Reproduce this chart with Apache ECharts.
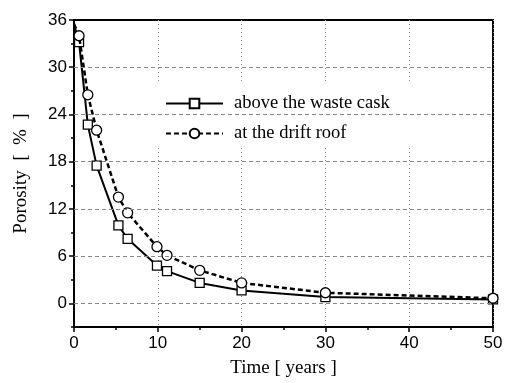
<!DOCTYPE html>
<html>
<head>
<meta charset="utf-8">
<script src="https://cdn.jsdelivr.net/npm/echarts@6/dist/echarts.min.js"></script>
<style>
  html, body { margin: 0; padding: 0; background: #fff; }
  #chart { width: 506px; height: 383px; }
</style>
</head>
<body>
<div id="chart"></div>
<script>
// Porosity decay over time at two locations
const timeYears = [0, 0.6, 1.65, 2.7, 5.3, 6.4, 9.9, 11.1, 15, 20, 30, 50];
const porosityAboveCask = [35.5, 33.2, 22.7, 17.5, 9.9, 8.2, 4.8, 4.1, 2.6, 1.65, 0.8, 0.5];
const porosityDriftRoof = [35.5, 34.0, 26.5, 22.0, 13.5, 11.5, 7.2, 6.1, 4.2, 2.6, 1.35, 0.65];

const seriesNames = ['above the waste cask', 'at the drift roof'];
const yLabelTicks = [0, 6, 12, 18, 24, 30, 36];
const yGridValues = [0, 6, 12, 18, 24, 30];

// [x, y] pairs; the starting point sits on the axis and carries no marker
const pairs = (xs, ys) => xs.map((x, i) =>
  i === 0 ? { value: [x, ys[i]], symbol: 'none' } : [x, ys[i]]);

const chart = echarts.init(document.getElementById('chart'), null, { renderer: 'canvas' });

const sansFont = '"Liberation Sans", Arial, sans-serif';
const serifFont = '"Liberation Serif", "Times New Roman", serif';

chart.setOption({
  animation: false,
  backgroundColor: '#fff',
  grid: {
    left: 74, right: 13, top: 20, bottom: 56,
    show: true, borderColor: '#000', borderWidth: 2, backgroundColor: 'transparent'
  },
  legend: {
    orient: 'vertical',
    left: 150, top: 83,
    padding: [11, 37, 5, 15],
    itemGap: 11,
    itemWidth: 57,
    itemHeight: 12,
    backgroundColor: '#fff',
    data: seriesNames,
    textStyle: { fontFamily: serifFont, fontSize: 18.5, color: '#000', padding: [0, 0, 0, 6] }
  },
  xAxis: {
    type: 'value',
    min: 0, max: 50, interval: 10,
    name: 'Time [ years ]',
    nameLocation: 'middle',
    nameGap: 32,
    nameTextStyle: { fontFamily: serifFont, fontSize: 19, color: '#000' },
    axisLine: { show: true, onZero: false, lineStyle: { color: '#000', width: 2 } },
    axisTick: { show: true, inside: false, length: 5, lineStyle: { color: '#000', width: 1.5 } },
    minorTick: { show: true, splitNumber: 2, length: 3, lineStyle: { color: '#000', width: 1.5 } },
    axisLabel: { fontFamily: sansFont, fontSize: 17, color: '#000', margin: 8 },
    splitLine: { show: true, lineStyle: { color: '#888', width: 1, type: [1, 3] } }
  },
  yAxis: [
    {
      type: 'value',
      min: -3, max: 36, interval: 3,
      name: 'Porosity  [  %  ]',
      nameLocation: 'middle',
      nameGap: 43,
      nameRotate: 90,
      nameTextStyle: { fontFamily: serifFont, fontSize: 19, color: '#000' },
      axisLine: { show: true, onZero: false, lineStyle: { color: '#000', width: 2 } },
      axisTick: { show: true, inside: false, length: 3, lineStyle: { color: '#000', width: 1.5 } },
      axisLabel: {
        fontFamily: sansFont, fontSize: 17, color: '#000', margin: 7,
        customValues: yLabelTicks
      },
      splitLine: { show: false }
    },
    {
      type: 'value',
      min: -3, max: 36, interval: 3,
      position: 'left',
      axisLine: { show: false, onZero: false },
      axisTick: { show: true, inside: false, length: 5, customValues: yLabelTicks,
                  lineStyle: { color: '#000', width: 1.5 } },
      axisLabel: { show: false },
      splitLine: { show: false }
    }
  ],
  series: [
    {
      name: seriesNames[0],
      type: 'line',
      data: pairs(timeYears, porosityAboveCask),
      symbol: 'rect',
      symbolSize: 9,
      showAllSymbol: true,
      lineStyle: { color: '#000', width: 2 },
      itemStyle: { color: '#fff', borderColor: '#000', borderWidth: 1.3 },
      z: 3,
      markLine: {
        silent: true,
        symbol: 'none',
        label: { show: false },
        lineStyle: { color: '#888', width: 1, type: [4, 3] },
        data: yGridValues.map(v => ({ yAxis: v }))
      }
    },
    {
      name: seriesNames[1],
      type: 'line',
      data: pairs(timeYears, porosityDriftRoof),
      symbol: 'circle',
      symbolSize: 10,
      showAllSymbol: true,
      lineStyle: { color: '#000', width: 2.5, type: [5, 3] },
      itemStyle: { color: '#fff', borderColor: '#000', borderWidth: 1.3 },
      z: 4
    }
  ]
});
</script>
</body>
</html>
